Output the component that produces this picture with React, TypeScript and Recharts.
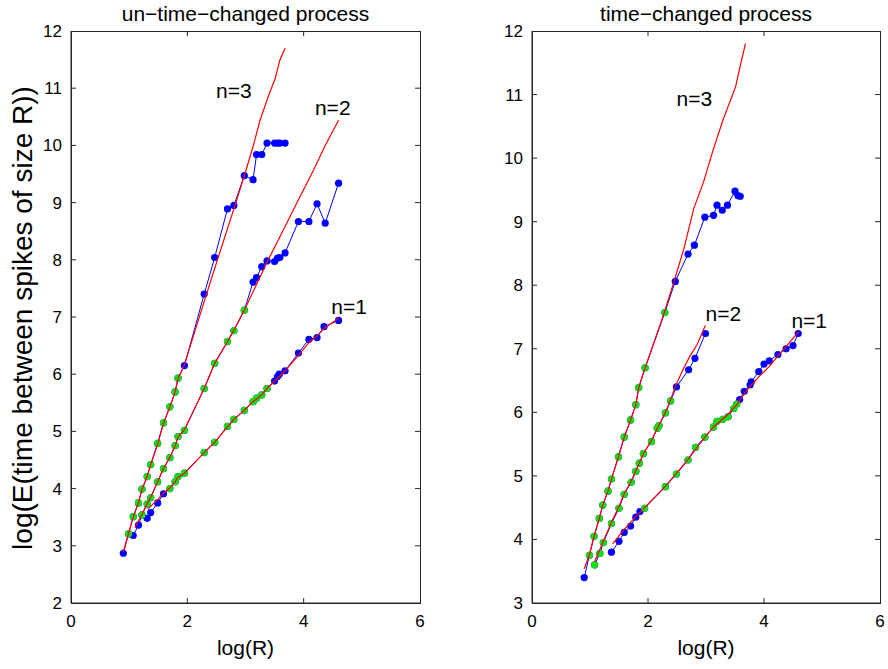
import React from 'react';
import { ScatterChart, Scatter, XAxis, YAxis, ReferenceDot } from 'recharts';

// ---------- left panel: un-time-changed process ----------
const L3_X = [0.90, 0.99, 1.07, 1.16, 1.22, 1.31, 1.37, 1.49, 1.59, 1.70, 1.79, 1.84, 1.95, 2.29, 2.47, 2.69, 2.80, 2.98, 3.13, 3.19, 3.28, 3.37, 3.50, 3.55, 3.59, 3.68];
const L3_Y = [2.87, 3.21, 3.51, 3.75, 3.99, 4.21, 4.42, 4.79, 5.15, 5.43, 5.69, 5.93, 6.15, 7.40, 8.04, 8.89, 8.95, 9.47, 9.40, 9.84, 9.84, 10.04, 10.04, 10.04, 10.04, 10.04];
const L3_G = [0, 1, 1, 1, 1, 1, 1, 1, 1, 1, 1, 1, 0, 0, 0, 0, 0, 0, 0, 0, 0, 0, 0, 0, 0, 0];

const L2_X = [1.07, 1.16, 1.22, 1.31, 1.37, 1.49, 1.59, 1.70, 1.79, 1.84, 1.95, 2.29, 2.47, 2.69, 2.80, 2.98, 3.13, 3.19, 3.28, 3.37, 3.50, 3.55, 3.59, 3.68, 3.91, 4.09, 4.23, 4.37, 4.60];
const L2_Y = [3.18, 3.36, 3.54, 3.73, 3.84, 4.12, 4.35, 4.54, 4.75, 4.91, 5.02, 5.75, 6.19, 6.57, 6.76, 7.12, 7.61, 7.69, 7.88, 7.98, 7.97, 8.03, 8.04, 8.12, 8.67, 8.67, 8.98, 8.64, 9.34];
const L2_G = [0, 0, 1, 1, 1, 1, 1, 1, 1, 1, 1, 1, 1, 1, 1, 1, 0, 0, 0, 0, 0, 0, 0, 0, 0, 0, 0, 0, 0];

const L1_X = [1.31, 1.37, 1.49, 1.59, 1.70, 1.79, 1.84, 1.95, 2.29, 2.47, 2.69, 2.80, 2.98, 3.13, 3.19, 3.28, 3.37, 3.50, 3.55, 3.58, 3.68, 3.91, 4.09, 4.23, 4.35, 4.60];
const L1_Y = [3.48, 3.58, 3.75, 3.91, 4.00, 4.12, 4.21, 4.27, 4.63, 4.81, 5.09, 5.21, 5.37, 5.52, 5.58, 5.64, 5.75, 5.88, 5.96, 6.00, 6.06, 6.37, 6.61, 6.64, 6.83, 6.94];
const L1_G = [0, 0, 0, 0, 1, 1, 1, 1, 1, 1, 1, 1, 1, 1, 1, 1, 1, 0, 0, 0, 0, 0, 0, 0, 0, 0];

const LF3_X = [0.90, 0.99, 1.07, 1.16, 1.22, 1.31, 1.37, 1.49, 1.59, 1.70, 1.79, 1.84, 1.95, 2.16, 2.33, 2.53, 2.80, 2.98, 3.13, 3.25, 3.39, 3.51, 3.59, 3.68];
const LF3_Y = [2.90, 3.22, 3.50, 3.76, 3.98, 4.22, 4.42, 4.78, 5.14, 5.43, 5.69, 5.92, 6.17, 6.85, 7.40, 8.04, 8.89, 9.47, 9.98, 10.44, 10.85, 11.17, 11.49, 11.70];
const LF2_X = [1.10, 1.22, 1.31, 1.37, 1.49, 1.59, 1.70, 1.79, 1.84, 1.95, 2.29, 2.47, 2.69, 2.80, 2.98, 3.13, 3.36, 3.59, 3.91, 4.17, 4.37, 4.60];
const LF2_Y = [3.32, 3.55, 3.74, 3.85, 4.12, 4.35, 4.55, 4.75, 4.90, 5.03, 5.75, 6.19, 6.57, 6.77, 7.12, 7.44, 7.94, 8.40, 9.05, 9.57, 10.00, 10.44];
const LF1_X = [1.32, 1.50, 1.59, 1.70, 1.79, 1.84, 1.95, 2.29, 2.47, 2.69, 2.80, 2.98, 3.13, 3.28, 3.37, 3.55, 3.68, 3.91, 4.09, 4.23, 4.35, 4.60];
const LF1_Y = [3.64, 3.82, 3.92, 4.01, 4.12, 4.20, 4.27, 4.63, 4.81, 5.08, 5.21, 5.37, 5.52, 5.64, 5.75, 5.93, 6.06, 6.33, 6.55, 6.67, 6.80, 6.98];

const LA_X = [2.80, 4.50, 4.78];
const LA_Y = [10.96, 10.67, 7.18];
const LA_T = ['n=3', 'n=2', 'n=1'];

// ---------- right panel: time-changed process ----------
const R3_X = [0.90, 0.99, 1.07, 1.16, 1.22, 1.31, 1.37, 1.49, 1.59, 1.70, 1.79, 1.84, 1.95, 2.29, 2.47, 2.69, 2.80, 2.98, 3.13, 3.19, 3.28, 3.37, 3.50, 3.55, 3.59];
const R3_Y = [3.40, 3.75, 4.05, 4.33, 4.54, 4.76, 4.95, 5.30, 5.61, 5.88, 6.12, 6.39, 6.70, 7.57, 8.06, 8.49, 8.63, 9.07, 9.10, 9.26, 9.18, 9.26, 9.48, 9.41, 9.40];
const R3_G = [0, 1, 1, 1, 1, 1, 1, 1, 1, 1, 1, 1, 1, 1, 0, 0, 0, 0, 0, 0, 0, 0, 0, 0, 0];

const R2_X = [1.08, 1.17, 1.23, 1.37, 1.50, 1.59, 1.71, 1.79, 1.85, 1.92, 2.06, 2.16, 2.19, 2.30, 2.39, 2.49, 2.70, 2.81, 2.99];
const R2_Y = [3.60, 3.78, 3.95, 4.25, 4.49, 4.71, 4.90, 5.07, 5.20, 5.35, 5.54, 5.75, 5.79, 5.99, 6.18, 6.40, 6.67, 6.85, 7.24];
const R2_G = [1, 1, 1, 1, 1, 1, 1, 1, 1, 1, 1, 1, 1, 1, 1, 0, 0, 0, 0];

const R1_X = [1.37, 1.50, 1.59, 1.70, 1.79, 1.86, 1.94, 2.30, 2.49, 2.69, 2.82, 2.98, 3.13, 3.19, 3.29, 3.38, 3.48, 3.53, 3.58, 3.66, 3.76, 3.78, 3.91, 4.00, 4.09, 4.24, 4.38, 4.50, 4.59];
const R1_Y = [3.80, 3.97, 4.11, 4.21, 4.35, 4.44, 4.49, 4.83, 5.03, 5.25, 5.45, 5.61, 5.77, 5.86, 5.89, 5.93, 6.06, 6.13, 6.20, 6.33, 6.43, 6.48, 6.64, 6.76, 6.81, 6.91, 7.00, 7.05, 7.24];
const R1_G = [0, 0, 0, 0, 0, 0, 1, 1, 1, 1, 1, 1, 1, 1, 1, 1, 1, 1, 0, 0, 0, 0, 0, 0, 0, 0, 0, 0, 0];

const RF3_X = [0.90, 0.99, 1.07, 1.16, 1.22, 1.31, 1.37, 1.49, 1.59, 1.70, 1.79, 1.84, 1.95, 2.27, 2.45, 2.62, 2.79, 2.96, 3.13, 3.30, 3.51, 3.58, 3.68];
const RF3_Y = [3.54, 3.76, 4.05, 4.33, 4.54, 4.76, 4.95, 5.30, 5.61, 5.88, 6.12, 6.39, 6.70, 7.54, 8.06, 8.58, 9.21, 9.63, 10.15, 10.62, 11.12, 11.41, 11.80];
const RF2_X = [1.08, 1.23, 1.37, 1.50, 1.59, 1.71, 1.85, 1.92, 2.06, 2.19, 2.30, 2.39, 2.49, 2.62, 2.72, 2.85, 2.99];
const RF2_Y = [3.65, 3.97, 4.27, 4.52, 4.72, 4.92, 5.20, 5.35, 5.56, 5.80, 6.00, 6.20, 6.45, 6.70, 6.88, 7.07, 7.37];
const RF1_X = [1.39, 1.59, 1.79, 1.94, 2.30, 2.49, 2.69, 2.98, 3.13, 3.38, 3.53, 3.70, 3.90, 4.10, 4.30, 4.60];
const RF1_Y = [3.93, 4.16, 4.36, 4.50, 4.84, 5.04, 5.26, 5.61, 5.77, 5.97, 6.12, 6.34, 6.55, 6.73, 6.95, 7.27];

const RA_X = [2.80, 3.30, 4.78];
const RA_Y = [10.93, 7.55, 7.45];
const RA_T = ['n=3', 'n=2', 'n=1'];

// ---------- axes ----------
const X_TICKS = [0, 2, 4, 6];
const L_Y_TICKS = [2, 3, 4, 5, 6, 7, 8, 9, 10, 11, 12];
const R_Y_TICKS = [3, 4, 5, 6, 7, 8, 9, 10, 11, 12];

const FONT = '"Liberation Sans", Arial, Helvetica, sans-serif';
const BLUE = '#0000ff';
const GREEN = '#11e011';
const RED = '#ff0000';
const AXIS = '#262626';
const TICK_PX = 5;
const CHART_H = 669;
const Y_AXIS_W = 40;
const X_AXIS_H = 30;

type Pt = { x: number; y: number };
const zip = (xs: number[], ys: number[]): Pt[] => xs.map((x, i) => ({ x, y: ys[i] }));
const pickGreen = (xs: number[], ys: number[], g: number[]): Pt[] =>
  xs.map((x, i) => ({ x, y: ys[i] })).filter((_, i) => g[i] === 1);

const BlueDot = (p: any) => <circle cx={p.cx} cy={p.cy} r={3.6} fill={BLUE} />;
const GreenDot = (p: any) => <circle cx={p.cx} cy={p.cy} r={3.6} fill={GREEN} />;
const NoDot = () => <g />;

type Series = { xs: number[]; ys: number[]; g: number[] };
type Fit = { xs: number[]; ys: number[] };

interface PanelProps {
  left: number;
  width: number;
  margin: { top: number; right: number; bottom: number; left: number };
  xDomain: [number, number];
  yDomain: [number, number];
  yTicks: number[];
  series: Series[];
  fits: Fit[];
  annX: number[];
  annY: number[];
  annT: string[];
}

const tickStyle = { fill: '#000', fontSize: 17, fontFamily: FONT };

// inward tick marks on all four sides, as short segments in data units
function tickSegments(p: PanelProps): Pt[][] {
  const [x0, x1] = p.xDomain;
  const [y0, y1] = p.yDomain;
  const plotW = p.width - p.margin.left - p.margin.right - Y_AXIS_W;
  const plotH = CHART_H - p.margin.top - p.margin.bottom - X_AXIS_H;
  const dx = (TICK_PX * (x1 - x0)) / plotW;
  const dy = (TICK_PX * (y1 - y0)) / plotH;
  const segs: Pt[][] = [];
  X_TICKS.filter((t) => t > x0 && t < x1).forEach((t) => {
    segs.push([{ x: t, y: y0 }, { x: t + 1e-4, y: y0 + dy }]);
    segs.push([{ x: t, y: y1 }, { x: t + 1e-4, y: y1 - dy }]);
  });
  p.yTicks.filter((t) => t > y0 && t < y1).forEach((t) => {
    segs.push([{ x: x0, y: t }, { x: x0 + dx, y: t + 1e-4 }]);
    segs.push([{ x: x1, y: t }, { x: x1 - dx, y: t + 1e-4 }]);
  });
  return segs;
}

function Panel(props: PanelProps) {
  const { left, width, margin, xDomain, yDomain, yTicks, series, fits, annX, annY, annT } = props;
  const segs = tickSegments(props);
  const plotLeft = margin.left + Y_AXIS_W;
  const plotW = width - plotLeft - margin.right;
  const plotH = CHART_H - margin.top - margin.bottom - X_AXIS_H;
  return (
    <div style={{ position: 'absolute', left, top: 0, width, height: CHART_H }}>
      <div style={{ position: 'absolute', left: 0, top: 0 }}>
        <ScatterChart width={width} height={CHART_H} margin={margin}>
          <XAxis
            type="number"
            dataKey="x"
            domain={xDomain}
            ticks={X_TICKS}
            interval={0}
            height={X_AXIS_H}
            axisLine={{ stroke: AXIS, strokeWidth: 1 }}
            tickLine={false}
            tickSize={0}
            tickMargin={12}
            tick={tickStyle}
          />
          <YAxis
            type="number"
            dataKey="y"
            domain={yDomain}
            ticks={yTicks}
            interval={0}
            width={Y_AXIS_W}
            axisLine={{ stroke: AXIS, strokeWidth: 1 }}
            tickLine={false}
            tickSize={0}
            tickMargin={9}
            tick={tickStyle}
          />
          {series.map((s, i) => (
            <Scatter
              key={'b' + i}
              data={zip(s.xs, s.ys)}
              line={{ stroke: BLUE, strokeWidth: 1 }}
              shape={BlueDot}
              isAnimationActive={false}
            />
          ))}
          {series.map((s, i) => (
            <Scatter key={'g' + i} data={pickGreen(s.xs, s.ys, s.g)} shape={GreenDot} isAnimationActive={false} />
          ))}
          {fits.map((f, i) => (
            <Scatter
              key={'r' + i}
              data={zip(f.xs, f.ys)}
              line={{ stroke: RED, strokeWidth: 1.2 }}
              shape={NoDot}
              isAnimationActive={false}
            />
          ))}
          {segs.map((s, i) => (
            <Scatter
              key={'f' + i}
              data={s}
              line={{ stroke: AXIS, strokeWidth: 1 }}
              shape={NoDot}
              isAnimationActive={false}
            />
          ))}
          {annX.map((x, i) => (
            <ReferenceDot
              key={'a' + i}
              x={x}
              y={annY[i]}
              r={0}
              fill="none"
              stroke="none"
              ifOverflow="visible"
              label={{ value: annT[i], position: 'center', fontSize: 21, fill: '#000', fontFamily: FONT }}
            />
          ))}
        </ScatterChart>
      </div>
      <div
        style={{
          position: 'absolute',
          left: plotLeft - 0.5,
          top: margin.top - 0.5,
          width: plotW - 1,
          height: plotH - 1,
          border: '1px solid ' + AXIS,
          pointerEvents: 'none',
        }}
      />
    </div>
  );
}

const textBase: React.CSSProperties = {
  position: 'absolute',
  fontFamily: FONT,
  color: '#000',
  textAlign: 'center',
  whiteSpace: 'nowrap',
};

export default function App() {
  return (
    <div style={{ position: 'absolute', left: 0, top: 0, width: 888, height: 669, background: '#fff', overflow: 'hidden' }}>
      <Panel
        left={0}
        width={440}
        margin={{ top: 31, right: 20, bottom: 36, left: 31 }}
        xDomain={[0, 6]}
        yDomain={[2, 12]}
        yTicks={L_Y_TICKS}
        series={[
          { xs: L3_X, ys: L3_Y, g: L3_G },
          { xs: L2_X, ys: L2_Y, g: L2_G },
          { xs: L1_X, ys: L1_Y, g: L1_G },
        ]}
        fits={[
          { xs: LF3_X, ys: LF3_Y },
          { xs: LF2_X, ys: LF2_Y },
          { xs: LF1_X, ys: LF1_Y },
        ]}
        annX={LA_X}
        annY={LA_Y}
        annT={LA_T}
      />
      <Panel
        left={444}
        width={444}
        margin={{ top: 31, right: 8, bottom: 36, left: 48 }}
        xDomain={[0, 6]}
        yDomain={[3, 12]}
        yTicks={R_Y_TICKS}
        series={[
          { xs: R3_X, ys: R3_Y, g: R3_G },
          { xs: R2_X, ys: R2_Y, g: R2_G },
          { xs: R1_X, ys: R1_Y, g: R1_G },
        ]}
        fits={[
          { xs: RF3_X, ys: RF3_Y },
          { xs: RF2_X, ys: RF2_Y },
          { xs: RF1_X, ys: RF1_Y },
        ]}
        annX={RA_X}
        annY={RA_Y}
        annT={RA_T}
      />
      <div style={{ ...textBase, fontSize: 21, lineHeight: '21px', left: 71, top: 3, width: 349 }}>un−time−changed process</div>
      <div style={{ ...textBase, fontSize: 21, lineHeight: '21px', left: 532, top: 3, width: 348 }}>time−changed process</div>
      <div style={{ ...textBase, fontSize: 21, lineHeight: '21px', left: 71, top: 637, width: 349 }}>log(R)</div>
      <div style={{ ...textBase, fontSize: 21, lineHeight: '21px', left: 532, top: 637, width: 348 }}>log(R)</div>
      <div
        style={{
          ...textBase,
          fontSize: 28,
          lineHeight: '28px',
          height: 28,
          left: 23 - 300,
          top: 318 - 14,
          width: 600,
          transform: 'rotate(-90deg)',
        }}
      >
        log(E(time between spikes of size R))
      </div>
    </div>
  );
}
